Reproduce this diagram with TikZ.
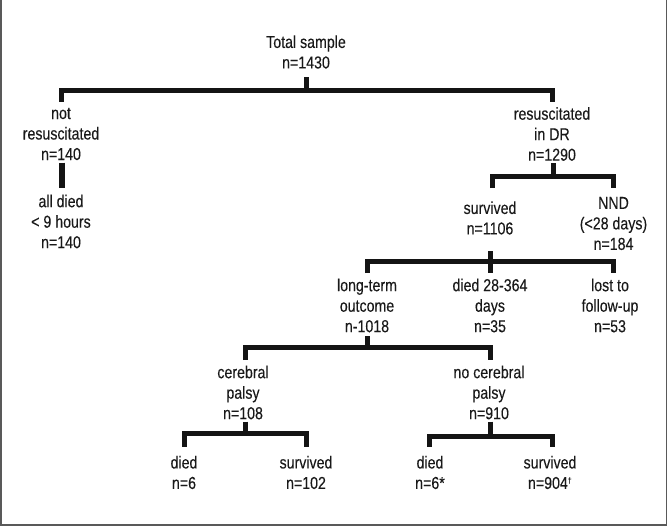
\documentclass[tikz,border=0pt]{standalone}
\usepackage{fontspec}
\setmainfont{Liberation Sans}[FakeStretch=0.82,FakeBold=0.2]
\begin{document}
\begin{tikzpicture}[x=1pt,y=-1pt,
  lbl/.style={align=center,inner sep=0pt,text=black!90,font=\fontsize{17.3}{20.5}\selectfont},
  tree/.style={line width=5pt,draw=black!92,line join=miter,line cap=butt},
  thick stem/.style={line width=6.7pt,draw=black!92,line cap=butt}]
\useasboundingbox (0,0) rectangle (668,527);
\draw[black!65,line width=1.6pt] (0.8,-2) -- (0.8,525.2) -- (666.6,525.2) -- (666.6,-2);

% nodes
\node[lbl] (tot) at (306,52) {Total sample\\n=1430};
\node[lbl] (notres) at (61,134) {not\\resuscitated\\n=140};
\node[lbl] (alldied) at (61,221.5) {all died\\< 9 hours\\n=140};
\node[lbl] (res) at (552,134) {resuscitated\\in DR\\n=1290};
\node[lbl] (surv) at (490,218) {survived\\n=1106};
\node[lbl] (nnd) at (613.5,223.5) {NND\\(<28 days)\\n=184};
\node[lbl] (lto) at (367,305.5) {long-term\\outcome\\n-1018};
\node[lbl] (d28) at (490,305.5) {died 28-364\\days\\n=35};
\node[lbl] (lost) at (610,305.5) {lost to\\follow-up\\n=53};
\node[lbl] (cp) at (243,392.5) {cerebral\\palsy\\n=108};
\node[lbl] (ncp) at (489,392.5) {no cerebral\\palsy\\n=910};
\node[lbl] (cpd) at (184,472.5) {died\\n=6};
\node[lbl] (cps) at (306,472.5) {survived\\n=102};
\node[lbl] (ncpd) at (430,472.5) {died\\n=6*};
\node[lbl] (ncps) at (550,472.5) {survived\\n=904\textsuperscript{\footnotesize\raisebox{-0.5pt}{\dag}}};

% connector coordinates
\coordinate (s0) at (306,77);   \coordinate (j0) at (306,90);
\coordinate (a0) at (61,101.7); \coordinate (b0) at (552,101.7);
\coordinate (s1a) at (62,162.7); \coordinate (s1b) at (62,187.7);
\coordinate (s2) at (553,163);  \coordinate (j2) at (553,176);
\coordinate (a2) at (492,188);  \coordinate (b2) at (613.5,188);
\coordinate (s3) at (490,251);  \coordinate (j3) at (490,261.7);
\coordinate (a3) at (367,273);  \coordinate (c3) at (490,273); \coordinate (b3) at (613.5,273);
\coordinate (s4) at (367,336);  \coordinate (j4) at (367,347.7);
\coordinate (a4) at (245,360);  \coordinate (b4) at (490,360);
\coordinate (s5) at (245,421.7); \coordinate (j5) at (245,433);
\coordinate (a5) at (184,446.7); \coordinate (b5) at (306,446.7);
\coordinate (s6) at (490,421.7); \coordinate (j6) at (490,436);
\coordinate (a6) at (429.5,446.7); \coordinate (b6) at (552,446.7);

% connectors
\draw[tree] (s0) -- (j0);
\draw[tree] (a0) -- (a0 |- j0) -- (b0 |- j0) -- (b0);
\draw[thick stem] (s1a) -- (s1b);
\draw[tree] (s2) -- (j2);
\draw[tree] (a2) -- (a2 |- j2) -- (b2 |- j2) -- (b2);
\draw[tree] (s3) -- (j3);
\draw[tree] (a3) -- (a3 |- j3) -- (b3 |- j3) -- (b3);
\draw[tree] (j3) -- (c3);
\draw[tree] (s4) -- (j4);
\draw[tree] (a4) -- (a4 |- j4) -- (b4 |- j4) -- (b4);
\draw[tree] (s5) -- (j5);
\draw[tree] (a5) -- (a5 |- j5) -- (b5 |- j5) -- (b5);
\draw[tree] (s6) -- (j6);
\draw[tree] (a6) -- (a6 |- j6) -- (b6 |- j6) -- (b6);
\end{tikzpicture}
\end{document}
